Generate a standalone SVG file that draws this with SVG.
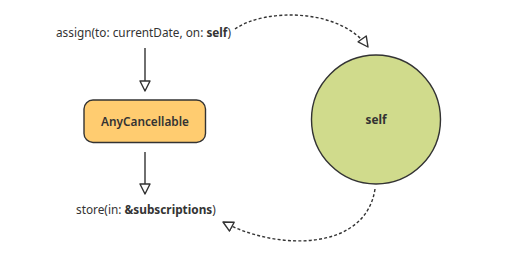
<svg xmlns="http://www.w3.org/2000/svg" width="505" height="254" viewBox="0 0 505 254">
<style>
.t{font-family:"Noto Sans","Liberation Sans",sans-serif;font-size:11.8px;fill:#333}
.b{font-weight:bold}
.c{stroke:#333;stroke-width:1.4;fill:none}
.d{stroke-dasharray:3 2.2}
</style>
<defs>
<marker id="a" viewBox="0 0 12 12" refX="11" refY="6" markerWidth="12" markerHeight="12" markerUnits="userSpaceOnUse" orient="auto">
<path d="M1,1 L11,6 L1,11 Z" fill="#fff" stroke="#333" stroke-width="1.4" stroke-linejoin="round"/>
</marker>
</defs>
<rect width="505" height="254" fill="#fff"/>
<g id="connectors">
<path class="c" d="M145,48 V91" marker-end="url(#a)"/>
<path class="c" d="M145,152 V194" marker-end="url(#a)"/>
<path class="c d" d="M235,29 C265,8 340,8 368,47" marker-end="url(#a)"/>
<path class="c d" d="M375,189 C366,250 280,252 223,222" marker-end="url(#a)"/>
</g>
<g id="assign">
<text class="t" x="56" y="37">assign(to: currentDate, on: <tspan class="b">self</tspan>)</text>
</g>
<g id="anycancellable">
<rect x="84" y="100" width="121.5" height="42.5" rx="9" fill="#FFCC70" stroke="#333" stroke-width="1.4"/>
<text class="t" x="145" y="125.5" text-anchor="middle" style="font-weight:600">AnyCancellable</text>
</g>
<g id="store">
<text class="t" x="76" y="214">store(in: <tspan class="b">&amp;subscriptions</tspan>)</text>
</g>
<g id="self">
<circle cx="376" cy="119.5" r="64.5" fill="#D0DB8C" stroke="#333" stroke-width="1.4"/>
<text class="t b" x="376" y="124" text-anchor="middle">self</text>
</g>
</svg>
